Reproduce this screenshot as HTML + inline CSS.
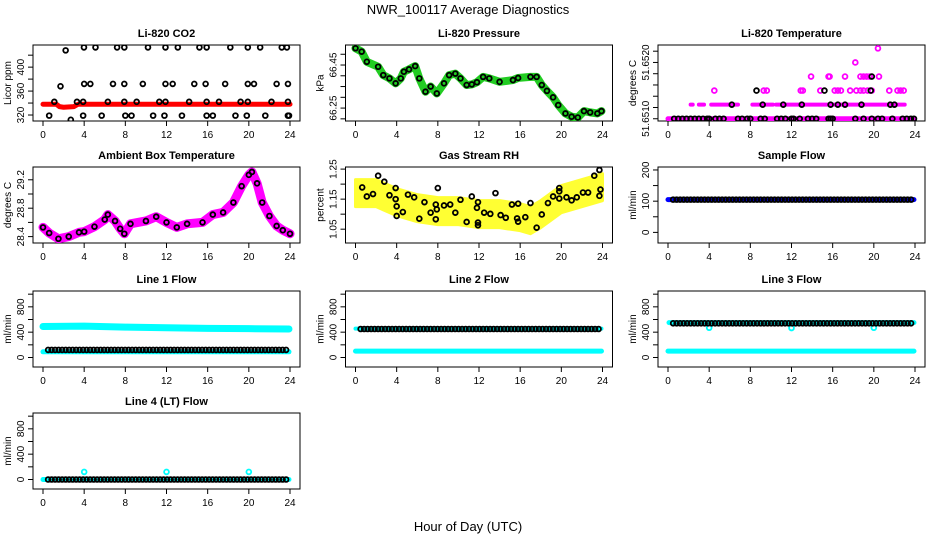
<!DOCTYPE html>
<html><head><meta charset="utf-8"><style>
html,body{margin:0;padding:0;background:#fff;}
svg{display:block;font-family:"Liberation Sans",Arial,sans-serif;}
</style></head><body>
<svg id="chart" width="936" height="540" viewBox="0 0 936 540" xmlns="http://www.w3.org/2000/svg">
<text x="468" y="14" text-anchor="middle" font-size="13">NWR_100117  Average Diagnostics</text>
<text x="468" y="531" text-anchor="middle" font-size="13">Hour of Day (UTC)</text>
</svg>
<script>
// ---- data ----
const xTicks = [0,4,8,12,16,20,24];
// CO2
const co2TopT = [2.2,3.98,5.1,7.2,7.9,10.2,11.9,13.1,15.2,15.9,18.2,19.9,21.1,23.2,23.7];
const co2TopV = [428,433,433,433,433,433,433,433,433,433,433,433,433,433,433];
const co2MidT = [1.7,4.0,4.6,6.8,7.9,9.7,11.9,12.6,14.7,15.8,17.7,19.9,20.5,22.7,23.8];
const co2MidV = [368,372,372,372,372,372,372,372,372,372,372,372,372,372,372];
const co2LowT = [1.1,3.3,3.9,6.3,7.9,9.1,11.3,11.9,14.2,15.9,17.1,19.2,19.9,22.2,23.8];
const co2LowV = [342,342,342,342,342,342,342,342,342,342,342,342,342,342,342];
const co2BotT = [0.6,2.7,3.9,5.7,8.0,8.6,10.7,11.8,13.5,15.9,16.5,18.7,19.8,21.6,23.8,23.9];
const co2BotV = [319,312,319,319,319,319,319,319,319,319,319,319,319,319,319,319];
const co2RedT = [0,1.3,1.6,2.0,3.0,3.4,24];
const co2RedV = [338,338,334,333,334,338,338];
// Pressure
const presT = [0,0.6,1.1,2.2,2.7,3.3,3.9,4.4,4.7,5.2,5.8,6.2,6.8,7.3,7.9,8.6,9.1,9.7,10.2,10.8,11.3,11.8,12.4,13,14,15.3,15.8,17,17.6,18.1,18.6,19.2,19.7,20.4,21,21.6,22.2,22.8,23.5,23.9];
const presV = [66.528,66.512,66.465,66.442,66.403,66.388,66.365,66.388,66.419,66.43,66.445,66.388,66.326,66.35,66.318,66.365,66.403,66.41,66.388,66.357,66.36,66.37,66.395,66.388,66.372,66.38,66.39,66.395,66.395,66.357,66.33,66.30,66.264,66.225,66.21,66.206,66.236,66.23,66.225,66.236];
// Li-820 temperature (levels)
const tempBaseBlackT = [0.6,1.0,1.4,1.8,2.2,2.6,3.0,3.4,3.8,4.0,4.6,5.0,5.4,6.8,7.2,7.7,8.0,9.0,9.4,10.6,11.0,11.4,12.0,12.2,12.8,13.6,14.0,14.4,15.6,15.8,16.0,18.2,19.0,19.8,20.4,20.8,21.8,22.8,23.2,23.6,23.9];
const tempL1MagSeg = [[2.2,2.4],[3.0,3.5],[4.2,6.8],[8.2,10.2],[10.5,15.8],[16.0,23.0]];
const tempL1BlackT = [6.2,9.2,11.2,13.0,15.8,16.5,17.2,18.8,21.6,22.0];
const tempL2MagT = [4.5,9.3,9.6,12.9,13.1,14.8,16.2,16.5,16.8,17.7,18.3,18.7,19.0,19.4,19.8,21.5,22.3,22.6,22.9];
const tempL2BlackT = [8.6,15.2,19.7];
const tempL3MagT = [13.9,15.6,15.7,17.2,18.7,19.0,19.3,19.6,20.5];
const tempL3BlackT = [19.8];
const tempL4MagT = [18.2];
const tempL5MagT = [20.4];
const tempLevels = [51.6510,51.65125,51.6515,51.65175,51.6520,51.65225];
// Ambient box temperature
const ambT = [0,0.6,1.5,2.5,3.5,4,5,6,6.3,7,7.5,7.9,8.5,10,11,12,13,14,15.5,16.5,17.5,18.5,19.3,20,20.3,20.8,21.3,22,22.7,23.3,24];
const ambV = [28.53,28.45,28.37,28.40,28.46,28.47,28.54,28.64,28.71,28.62,28.51,28.44,28.58,28.62,28.68,28.60,28.53,28.58,28.60,28.71,28.74,28.88,29.11,29.27,29.31,29.15,28.88,28.69,28.55,28.49,28.44];
// Gas stream RH
const rhBandT = [0,2,4,6,8,10,12,14,16,17,18,20,22,24];
const rhBandV = [1.17,1.17,1.14,1.12,1.11,1.11,1.10,1.10,1.09,1.08,1.10,1.15,1.17,1.19];
const rhBlackT = [0.65,1.1,1.7,2.2,2.8,3.3,3.9,3.9,4.0,4.0,4.6,5.1,5.7,6.2,6.7,7.3,7.8,7.9,7.8,8.0,8.6,9.2,9.7,10.2,10.8,11.3,11.8,11.9,11.9,11.9,12.5,13.1,13.6,14.1,14.6,15.2,15.8,15.7,15.8,16.5,17.0,17.6,18.1,18.7,19.2,19.8,19.8,19.8,20.5,21.0,21.5,22.1,22.6,23.2,23.7,23.8,23.7];
const rhBlackV = [1.189,1.159,1.167,1.228,1.208,1.163,1.187,1.15,1.126,1.094,1.107,1.165,1.156,1.085,1.14,1.105,1.132,1.116,1.083,1.187,1.129,1.132,1.105,1.148,1.074,1.159,1.121,1.072,1.063,1.14,1.105,1.101,1.17,1.097,1.088,1.132,1.135,1.086,1.075,1.09,1.137,1.055,1.099,1.137,1.159,1.187,1.176,1.152,1.156,1.146,1.156,1.172,1.172,1.228,1.247,1.182,1.161];
// Flows (levels)
const sampleBlue = 105, sampleBlack = 105;
const line1HighT = [0,4,8,12,16,20,23.9];
const line1HighV = [490,495,480,470,460,455,450];
const line1Low = 90, line1Black = 120;
const line2Low = 100, line2Black = 450, line2Cyan = 455;
const line3Low = 100, line3Black = 540, line3Cyan = 550;
const line3DipT = [4,12,20];
const line3DipV = [470,465,470];
const line4Black = 0, line4Cyan = 0;
const line4SpikeT = [4,12,20];
const line4SpikeV = [120,120,120];

// ---- drawing ----
const svg = document.getElementById('chart');
const NS = 'http://www.w3.org/2000/svg';
function mk(tag, attrs, parent){
  const e = document.createElementNS(NS, tag);
  for (const k in attrs) e.setAttribute(k, attrs[k]);
  (parent||svg).appendChild(e);
  return e;
}
const rowTops = [45,167,291,413];
function panel(col,row,title,ylab,ymin,ymax,ticks,labels,name){
  const x0 = 43 + 312.5*col, bl = x0-10, br = x0+257;
  const top = rowTops[row], bot = top+76;
  const g = mk('g',{});
  
  
  const sx = t => x0 + t*247/24;
  const sy = v => bot - (v-ymin)/(ymax-ymin)*76;
  const box = mk('rect',{x:bl,y:top,width:br-bl,height:76,fill:'none',stroke:'#000','stroke-width':1},g);
  
  
  const tt = mk('text',{x:(bl+br)/2,y:top-8,'text-anchor':'middle','font-size':11,'font-weight':'bold'},g);
  tt.textContent = title;
  
  
  xTicks.forEach(t=>{
    mk('line',{x1:sx(t),x2:sx(t),y1:bot,y2:bot+5,stroke:'#000'},g);
    const l = mk('text',{x:sx(t),y:bot+17,'text-anchor':'middle','font-size':10},g);
    l.textContent = t;
    
    
  });
  ticks.forEach((v,i)=>{
    mk('line',{x1:bl,x2:bl-5,y1:sy(v),y2:sy(v),stroke:'#000'},g);
    if (labels[i]){
      const l = mk('text',{x:bl-9,y:sy(v),'text-anchor':'middle','font-size':10,transform:`rotate(-90 ${bl-9} ${sy(v)})`},g);
      l.textContent = labels[i];
      
      
    }
  });
  const yl = mk('text',{x:bl-22,y:(top+bot)/2,'text-anchor':'middle','font-size':10,transform:`rotate(-90 ${bl-22} ${(top+bot)/2})`},g);
  yl.textContent = ylab;
  
  
  const clip = 'clip'+name;
  const cp = mk('clipPath',{id:clip},g);
  mk('rect',{x:bl,y:top,width:br-bl,height:76},cp);
  const pg = mk('g',{'clip-path':`url(#${clip})`},g);
  return {sx,sy,g:pg};
}
function circ(p,t,v,color,name,r){
  const c = mk('circle',{cx:p.sx(t),cy:p.sy(v),r:r||2.4,fill:'none',stroke:color,'stroke-width':1.8},p.g);
  
  
}
function band(p,ts,vs,color,w,name){
  const pts = ts.map((t,i)=>p.sx(t)+','+p.sy(vs[i])).join(' ');
  const l = mk('polyline',{points:pts,fill:'none',stroke:color,'stroke-width':w,'stroke-linejoin':'round','stroke-linecap':'round'},p.g);
  
  
}
function blackRow(p,level,color,name){
  for (let t=0.5; t<=23.95; t+=0.34) circ(p,t,level,color,name);
}

// CO2
let p = panel(0,0,'Li-820 CO2','Licor ppm',310,437,[320,340,360,380,400,420],['320','','360','','400',''],'co2');
band(p,co2RedT,co2RedV,'#ff0000',5,'co2-red-series');
[[co2TopT,co2TopV],[co2MidT,co2MidV],[co2LowT,co2LowV],[co2BotT,co2BotV]].forEach(a=>a[0].forEach((t,i)=>circ(p,t,a[1][i],'#000','co2-black-point')));

// Pressure
p = panel(1,0,'Li-820 Pressure','kPa',66.19,66.543,[66.2,66.25,66.3,66.35,66.4,66.45,66.5],['','66.25','','','','66.45',''],'pressure');
band(p,presT,presV,'#22cc22',8,'pressure-green-series');
presT.forEach((t,i)=>circ(p,t,presV[i],'#000','pressure-black-point'));

// Li-820 temperature
p = panel(2,0,'Li-820 Temperature','degrees C',51.65096,51.65231,[51.6510,51.6512,51.6514,51.6516,51.6518,51.6520,51.6522],['51.6510','','','','','51.6520',''],'li820-temp');
band(p,[0,23.9],[tempLevels[0],tempLevels[0]],'#ff00ff',5,'temp-magenta-base');
tempL1MagSeg.forEach(s=>band(p,s,[tempLevels[1],tempLevels[1]],'#ff00ff',4,'temp-magenta-level1'));
tempBaseBlackT.forEach(t=>circ(p,t,tempLevels[0],'#000','temp-black-point'));
tempL1BlackT.forEach(t=>circ(p,t,tempLevels[1],'#000','temp-black-point'));
tempL2MagT.forEach(t=>circ(p,t,tempLevels[2],'#ff00ff','temp-magenta-point'));
tempL2BlackT.forEach(t=>circ(p,t,tempLevels[2],'#000','temp-black-point'));
tempL3MagT.forEach(t=>circ(p,t,tempLevels[3],'#ff00ff','temp-magenta-point'));
tempL3BlackT.forEach(t=>circ(p,t,tempLevels[3],'#000','temp-black-point'));
tempL4MagT.forEach(t=>circ(p,t,tempLevels[4],'#ff00ff','temp-magenta-point'));
tempL5MagT.forEach(t=>circ(p,t,tempLevels[5],'#ff00ff','temp-magenta-point'));

// Ambient
p = panel(0,1,'Ambient Box Temperature','degrees C',28.31,29.38,[28.4,28.6,28.8,29.0,29.2],['28.4','','28.8','','29.2'],'ambient');
band(p,ambT,ambV,'#ff00ff',9,'ambient-magenta-series');
ambT.forEach((t,i)=>circ(p,t,ambV[i],'#000','ambient-black-point'));

// RH
p = panel(1,1,'Gas Stream RH','percent',1.004,1.257,[1.05,1.1,1.15,1.2,1.25],['1.05','','1.15','','1.25'],'rh');
{
  const up = rhBandT.map((t,i)=>p.sx(t)+','+p.sy(rhBandV[i]+0.045));
  const dn = rhBandT.map((t,i)=>p.sx(t)+','+p.sy(rhBandV[i]-0.045)).reverse();
  const poly = mk('polygon',{points:up.concat(dn).join(' '),fill:'#ffff33',stroke:'#ffff33','stroke-width':3,'stroke-linejoin':'round'},p.g);
  
  
}
rhBlackT.forEach((t,i)=>circ(p,t,rhBlackV[i],'#000','rh-black-point'));

// Sample flow
p = panel(2,1,'Sample Flow','ml/min',-34,209.5,[0,50,100,150,200],['0','','100','','200'],'sample-flow');
band(p,[0,23.9],[sampleBlue,sampleBlue],'#0000ff',5,'sample-blue-series');
blackRow(p,sampleBlack,'#000','sample-black-point');

const fT = [0,200,400,600,800,1000], fL = ['0','','400','','800',''];
// Line 1
p = panel(0,2,'Line 1 Flow','ml/min',-150,1050,fT,fL,'line1');
band(p,line1HighT,line1HighV,'#00ffff',7,'line1-cyan-high');
band(p,[0,23.9],[line1Low,line1Low],'#00ffff',5,'line1-cyan-low');
blackRow(p,line1Black,'#000','line1-black-point');
// Line 2
p = panel(1,2,'Line 2 Flow','ml/min',-150,1050,fT,fL,'line2');
band(p,[0,23.9],[line2Cyan,line2Cyan],'#00ffff',4,'line2-cyan-high');
band(p,[0,23.9],[line2Low,line2Low],'#00ffff',5,'line2-cyan-low');
blackRow(p,line2Black,'#000','line2-black-point');
// Line 3
p = panel(2,2,'Line 3 Flow','ml/min',-150,1050,fT,fL,'line3');
band(p,[0.1,23.9],[line3Cyan,line3Cyan],'#00ffff',5,'line3-cyan-high');
band(p,[0,23.9],[line3Low,line3Low],'#00ffff',5,'line3-cyan-low');
line3DipT.forEach((t,i)=>circ(p,t,line3DipV[i],'#00ffff','line3-cyan-point'));
blackRow(p,line3Black,'#000','line3-black-point');
// Line 4
p = panel(0,3,'Line 4 (LT) Flow','ml/min',-150,1050,fT,fL,'line4');
band(p,[0,23.9],[line4Cyan,line4Cyan],'#00ffff',5,'line4-cyan-series');
line4SpikeT.forEach((t,i)=>circ(p,t,line4SpikeV[i],'#00ffff','line4-cyan-point'));
blackRow(p,line4Black,'#000','line4-black-point');
</script>
</body></html>
